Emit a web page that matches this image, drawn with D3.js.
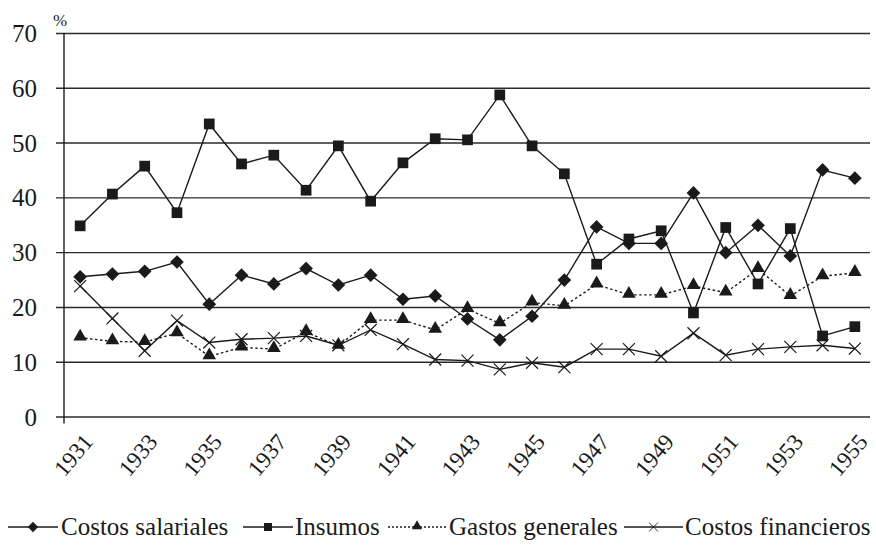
<!DOCTYPE html>
<html>
<head>
<meta charset="utf-8">
<script src="https://cdn.jsdelivr.net/npm/d3@7"></script>
<style>
  body { margin: 0; background: #fff; }
</style>
</head>
<body>
<div id="chart"></div>
<script>

// years on the category axis
var years = d3.range(1931, 1956);
var yearLabels = [1931, 1933, 1935, 1937, 1939, 1941, 1943, 1945, 1947, 1949, 1951, 1953, 1955];
var yTicks = [0, 10, 20, 30, 40, 50, 60, 70];

// series values (%)
var costosSalariales = [25.5, 26.0, 26.5, 28.2, 20.5, 25.8, 24.2, 27.0, 24.0, 25.8, 21.4, 22.0, 17.8, 14.0, 18.3, 24.9,
                        34.6, 31.6, 31.6, 40.8, 29.9, 34.9, 29.3, 45.0, 43.5];
var insumos = [34.8, 40.6, 45.7, 37.2, 53.4, 46.1, 47.7, 41.3, 49.4, 39.3, 46.3, 50.7, 50.5, 58.7, 49.4, 44.3,
               27.8, 32.4, 33.9, 18.9, 34.5, 24.2, 34.3, 14.7, 16.4];
var gastosGenerales = [14.4, 13.7, 13.6, 15.2, 11.0, 12.6, 12.3, 15.4, 12.9, 17.6, 17.6, 15.8, 19.6, 17.0, 20.8, 20.2,
                       24.1, 22.2, 22.2, 23.8, 22.6, 26.9, 22.0, 25.6, 26.2];
var costosFinancieros = [23.8, 17.9, 12.0, 17.5, 13.5, 14.1, 14.3, 14.7, 13.0, 15.8, 13.2, 10.4, 10.2, 8.6, 9.8, 9.0,
                         12.3, 12.3, 11.0, 15.2, 11.2, 12.3, 12.7, 13.0, 12.4];

var seriesNames = ["Costos salariales", "Insumos", "Gastos generales", "Costos financieros"];
var seriesMarkers = ["diamond", "square", "triangle", "cross"];

var width = 876, height = 548;
var ink = "#1a1a1a";
var serif = "Liberation Serif";

var svg = d3.select("#chart").append("svg")
    .attr("width", width)
    .attr("height", height);

var x = d3.scalePoint().domain(years).range([64, 871]).padding(0.5);
var y = d3.scaleLinear().domain([0, 70]).range([416.5, 33]);

// gridlines + y tick labels
var yAxis = d3.axisLeft(y).tickValues(yTicks).tickSize(-(870 - 56)).tickPadding(19).tickFormat(d3.format("d"));
var gy = svg.append("g")
    .attr("transform", "translate(56,0)")
    .call(yAxis);
gy.attr("font-family", null);
gy.select(".domain").remove();
gy.selectAll(".tick line").attr("stroke", "#2a2a2a").attr("stroke-width", 1.4);
gy.selectAll(".tick text")
    .style("font-family", serif)
    .style("font-size", "25px")
    .attr("fill", ink)
    .attr("dy", "0.34em");

svg.append("text")
    .attr("x", 53).attr("y", 26)
    .style("font-family", serif)
    .style("font-size", "17px")
    .attr("fill", ink)
    .text("%");

// vertical axis line
svg.append("line")
    .attr("x1", 64).attr("x2", 64)
    .attr("y1", y(70)).attr("y2", y(0) + 7)
    .attr("stroke", ink).attr("stroke-width", 1.4);

// x labels, rotated
svg.append("g").selectAll("text")
  .data(yearLabels)
  .enter().append("text")
    .attr("transform", function(d) { return "translate(" + (x(d) + 14) + "," + (y(0) + 26) + ") rotate(-50)"; })
    .style("font-family", serif)
    .style("font-size", "23px")
    .style("text-anchor", "end")
    .attr("fill", ink)
    .text(function(d) { return d; });

// series
var data = [costosSalariales, insumos, gastosGenerales, costosFinancieros];

var line = d3.line()
    .x(function(d, i) { return x(years[i]); })
    .y(function(d) { return y(d); });

function markerPath(kind) {
  if (kind === "diamond") return d3.symbol().type(d3.symbolDiamond2).size(120)();
  if (kind === "square") return d3.symbol().type(d3.symbolSquare).size(115)();
  if (kind === "triangle") return d3.symbol().type(d3.symbolTriangle).size(80)();
  return d3.symbol().type(d3.symbolTimes).size(95)();
}

function drawMarker(sel, kind) {
  var p = sel.append("path").attr("d", markerPath(kind));
  if (kind === "cross") {
    p.attr("fill", "none").attr("stroke", ink).attr("stroke-width", 1.2);
  } else {
    p.attr("fill", ink).attr("stroke", "none");
  }
  if (kind === "triangle") p.attr("transform", "translate(0,-1)");
  return p;
}

data.forEach(function(vals, si) {
  var g = svg.append("g").attr("class", "series");
  g.append("path")
      .datum(vals)
      .attr("d", line)
      .attr("fill", "none")
      .attr("stroke", ink)
      .attr("stroke-width", 1.4)
      .attr("stroke-dasharray", si === 2 ? "2.5,2.5" : null);

  g.selectAll("g.pt")
    .data(vals)
    .enter().append("g")
      .attr("class", "pt")
      .attr("transform", function(d, i) { return "translate(" + x(years[i]) + "," + y(d) + ")"; })
      .each(function() { drawMarker(d3.select(this), seriesMarkers[si]); });
});

// legend
var legendLineX = [8, 243, 388, 624];
var legendLineLen = [50, 50, 58, 59];
var legendTextX = [61, 295, 449, 685];
var legend = svg.append("g").attr("transform", "translate(0,527)");
seriesNames.forEach(function(name, i) {
  legend.append("line")
      .attr("x1", legendLineX[i]).attr("x2", legendLineX[i] + legendLineLen[i])
      .attr("stroke", ink).attr("stroke-width", 1.3)
      .attr("stroke-dasharray", i === 2 ? "2,2" : null);
  var m = legend.append("g")
      .attr("transform", "translate(" + (legendLineX[i] + legendLineLen[i] / 2) + ",0) scale(0.75)");
  drawMarker(m, seriesMarkers[i]);
  legend.append("text")
      .attr("x", legendTextX[i])
      .attr("y", 8)
      .style("font-family", serif)
      .style("font-size", "25px")
      .attr("fill", ink)
      .text(name);
});

</script>
</body>
</html>
